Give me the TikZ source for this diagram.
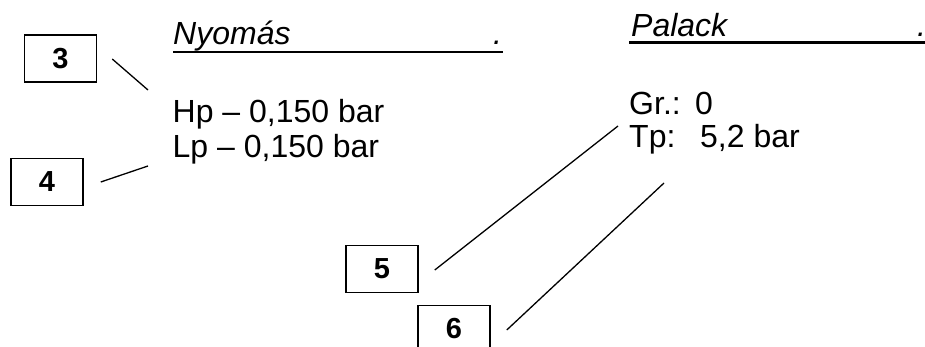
\documentclass[tikz,border=0pt]{standalone}
\usepackage{fontspec}
\setmainfont{Liberation Sans}
\begin{document}
\begin{tikzpicture}[x=1pt,y=-1pt,
  numbox/.style={draw, line width=1.5pt, minimum width=72pt, minimum height=47pt,
    inner sep=0pt, font=\fontsize{29}{34}\selectfont\bfseries},
  txt/.style={anchor=base west, inner sep=0pt, font=\fontsize{32}{38}\selectfont},
  head/.style={anchor=base west, inner sep=0pt, font=\fontsize{32}{38}\selectfont\itshape},
  lead/.style={line width=1.3pt},
  rule/.style={line width=2.6pt}]
\useasboundingbox (0,0) rectangle (925,347);

% numbered boxes
\node[numbox] (b3) at (60.5,58.5) {3};
\node[numbox] (b4) at (47,182) {4};
\node[numbox] (b5) at (382,269) {5};
\node[numbox] (b6) at (454,329) {6};

% pressure block
\node[head] (nyo) at (173,45) {Nyomás};
\node[head] (nyodot) at (493,45) {.};
\coordinate (nyoL) at (173,52);
\coordinate (nyoR) at (503,52);
\draw[rule] (nyoL) -- (nyoR);
\node[txt] (hp) at (172.5,123) {Hp – 0,150 bar};
\node[txt] (lp) at (172.5,158) {Lp – 0,150 bar};

% bottle block
\node[head] (pal) at (631,37) {Palack};
\node[head] (paldot) at (917,37) {.};
\coordinate (palL) at (629,42.5);
\coordinate (palR) at (925,42.5);
\draw[rule] (palL) -- (palR);
\node[txt] (gr) at (629,115) {\makebox[66pt][l]{Gr.:}0};
\node[txt] (tp) at (629,148) {\makebox[71pt][l]{Tp:}5,2 bar};

% leader lines
\coordinate (e3) at (148,90);
\coordinate (e4) at (148,166);
\coordinate (e5) at (618,126);
\coordinate (e6) at (664,183);
\draw[lead] ([xshift=15pt,yshift=-0.5pt]b3.east) -- (e3);
\draw[lead] ([xshift=17pt]b4.east) -- (e4);
\draw[lead] ([xshift=16pt,yshift=-1pt]b5.east) -- (e5);
\draw[lead] ([xshift=16pt,yshift=-1pt]b6.east) -- (e6);
\end{tikzpicture}
\end{document}
